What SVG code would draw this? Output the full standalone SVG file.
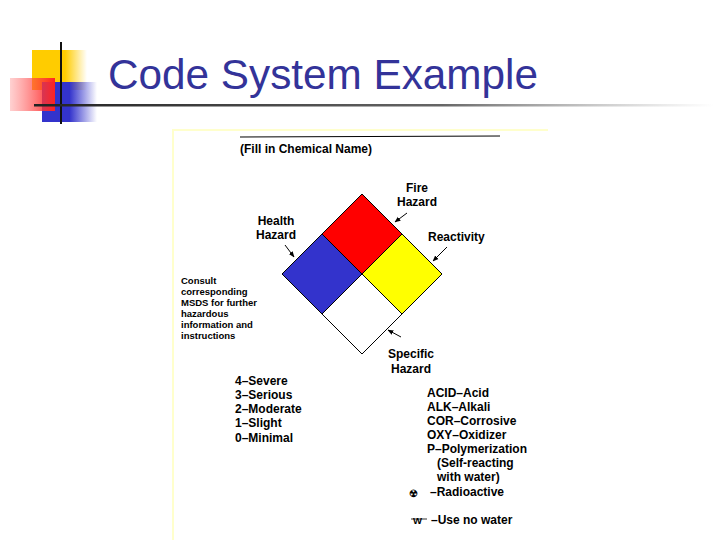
<svg xmlns="http://www.w3.org/2000/svg" width="720" height="540" viewBox="0 0 720 540">
<defs>
<linearGradient id="gy" x1="0" x2="1"><stop offset="0" stop-color="#ffcc00"/><stop offset="0.6" stop-color="#ffcc00"/><stop offset="1" stop-color="#ffcc00" stop-opacity="0"/></linearGradient>
<linearGradient id="gr" x1="0" x2="1"><stop offset="0" stop-color="#ff6666" stop-opacity="0.3"/><stop offset="1" stop-color="#ff2222"/></linearGradient>
<linearGradient id="gb" x1="0" x2="1"><stop offset="0" stop-color="#3333cc"/><stop offset="0.5" stop-color="#3333cc"/><stop offset="1" stop-color="#3333cc" stop-opacity="0"/></linearGradient>
<linearGradient id="gl" x1="0" x2="1"><stop offset="0" stop-color="#222"/><stop offset="0.6" stop-color="#666"/><stop offset="1" stop-color="#999" stop-opacity="0"/></linearGradient>
<marker id="ah" viewBox="0 0 10 10" refX="9" refY="5" markerWidth="6" markerHeight="6" orient="auto"><path d="M0,1 L10,5 L0,9 z" fill="#000"/></marker>
<style>
.t{font-family:"Liberation Sans",Arial,sans-serif;font-weight:bold;font-size:12px;fill:#000}
.s{font-family:"Liberation Sans",Arial,sans-serif;font-weight:bold;font-size:9.5px;fill:#000}
.q{stroke:#000;stroke-width:1}
.a{stroke:#000;stroke-width:1;fill:none;marker-end:url(#ah)}
</style>
</defs>
<rect width="720" height="540" fill="#fff"/>
<g id="logo">
<rect x="32" y="50" width="55" height="40" fill="url(#gy)"/>
<rect x="42" y="82" width="55" height="40" fill="url(#gb)"/>
<rect x="10" y="78" width="45" height="33" fill="url(#gr)"/>
<line x1="61" y1="42" x2="61" y2="124" stroke="#111" stroke-width="2"/>
<rect x="34" y="104" width="680" height="2.5" fill="url(#gl)"/>
</g>
<text x="108" y="89" font-family="Arial,'Liberation Sans',sans-serif" font-size="42" textLength="430" lengthAdjust="spacingAndGlyphs" fill="#333399">Code System Example</text>
<g id="panel">
<rect x="172" y="130" width="376" height="410" fill="#fff"/>
<line x1="173" y1="130" x2="173" y2="540" stroke="#ffffcc" stroke-width="2"/>
<line x1="172" y1="130" x2="548" y2="130" stroke="#ffffcc" stroke-width="2"/>
<line x1="240" y1="137" x2="500" y2="136" stroke="#000" stroke-width="1"/>
<text class="t" x="240" y="153">(Fill in Chemical Name)</text>
</g>
<g id="red"><polygon class="q" points="362,194 402,234 362,274 322,234" fill="#ff0000"/></g>
<g id="blue"><polygon class="q" points="322,234 362,274 322,314 282,274" fill="#3333cc"/></g>
<g id="yellow"><polygon class="q" points="402,234 442,274 402,314 362,274" fill="#ffff00"/></g>
<g id="white"><polygon class="q" points="362,274 402,314 362,354 322,314" fill="#fff"/></g>
<g id="labels">
<text class="t" x="417" y="192" text-anchor="middle">Fire</text>
<text class="t" x="417" y="206" text-anchor="middle">Hazard</text>
<text class="t" x="276" y="225" text-anchor="middle">Health</text>
<text class="t" x="276" y="239" text-anchor="middle">Hazard</text>
<text class="t" x="428" y="241">Reactivity</text>
<text class="t" x="411" y="358" text-anchor="middle">Specific</text>
<text class="t" x="411" y="373" text-anchor="middle">Hazard</text>
<text class="s" x="181" y="284">Consult</text>
<text class="s" x="181" y="295">corresponding</text>
<text class="s" x="181" y="306">MSDS for further</text>
<text class="s" x="181" y="317">hazardous</text>
<text class="s" x="181" y="328">information and</text>
<text class="s" x="181" y="339">instructions</text>
<text class="t" x="235" y="385">4–Severe</text>
<text class="t" x="235" y="399">3–Serious</text>
<text class="t" x="235" y="413">2–Moderate</text>
<text class="t" x="235" y="427">1–Slight</text>
<text class="t" x="235" y="442">0–Minimal</text>
<text class="t" x="427" y="397">ACID–Acid</text>
<text class="t" x="427" y="411">ALK–Alkali</text>
<text class="t" x="427" y="425">COR–Corrosive</text>
<text class="t" x="427" y="439">OXY–Oxidizer</text>
<text class="t" x="427" y="453">P–Polymerization</text>
<text class="t" x="437" y="467">(Self-reacting</text>
<text class="t" x="437" y="481">with water)</text>
<text class="t" x="430" y="496">–Radioactive</text>
<text class="t" x="431" y="524">–Use no water</text>
<text class="s" x="409" y="497" font-size="10">☢</text>
<text class="s" x="413" y="524" font-size="10">W</text>
<line x1="411" y1="519" x2="427" y2="519" stroke="#000" stroke-width="0.8"/>
</g>
<g id="connectors">
<line class="a" x1="407" y1="213" x2="395" y2="222"/>
<line class="a" x1="285" y1="245" x2="294" y2="257"/>
<line class="a" x1="447" y1="247" x2="433" y2="261"/>
<line class="a" x1="401" y1="337" x2="388" y2="330"/>
</g>
</svg>
